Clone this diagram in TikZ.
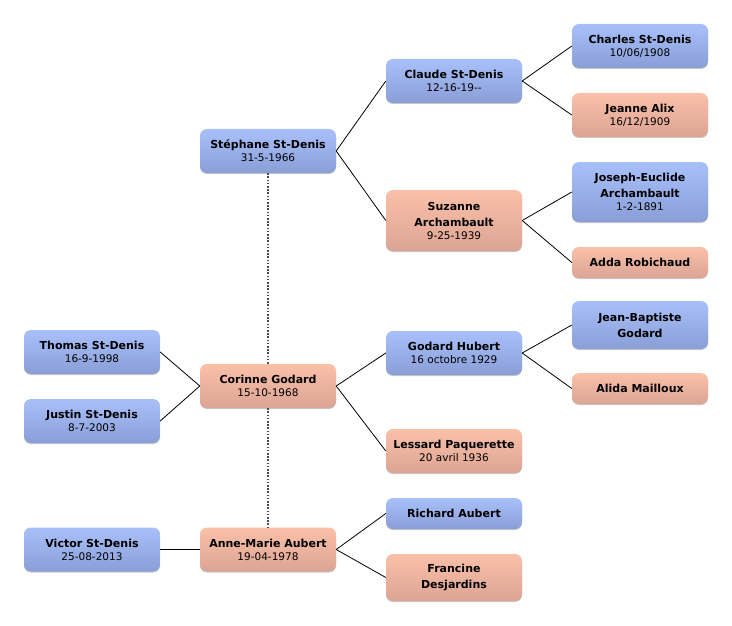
\documentclass[tikz,border=0pt]{standalone}
\usepackage{fontspec}
\setmainfont{DejaVu Sans}
\usetikzlibrary{shadows}
\definecolor{bleuH}{RGB}{168,192,250}
\definecolor{bleuB}{RGB}{138,158,214}
\definecolor{roseH}{RGB}{250,192,168}
\definecolor{roseB}{RGB}{220,164,148}
\newcommand\dt{\fontsize{10.5}{16}\selectfont\mdseries}

\begin{document}
\begin{tikzpicture}[x=1pt,y=-1pt,
  person/.style={rounded corners=7pt, minimum width=136pt, minimum height=44pt,
    inner sep=2pt, align=center, font=\fontsize{11}{16}\selectfont\bfseries,
    drop shadow={shadow xshift=0pt, shadow yshift=-1pt, opacity=.22, fill=black}},
  male/.style={person, top color=bleuH, bottom color=bleuB},
  female/.style={person, top color=roseH, bottom color=roseB},
  lien/.style={draw=black, line width=.8pt},
  pointille/.style={draw=black!70, line width=1.6pt, dash pattern=on 1.6pt off 1.6pt}]
\useasboundingbox (0,0) rectangle (732,626);

% generation 1
\node[male] (stephane) at (268,151) {Stéphane St-Denis\\[-3pt]\dt 31-5-1966};
\node[female] (corinne) at (268,386) {Corinne Godard\\[-3pt]\dt 15-10-1968};
\node[female] (annemarie) at (268,549.5) {Anne-Marie Aubert\\[-3pt]\dt 19-04-1978};

% enfants
\node[male] (thomas) at (92,352) {Thomas St-Denis\\[-3pt]\dt 16-9-1998};
\node[male] (justin) at (92,421) {Justin St-Denis\\[-3pt]\dt 8-7-2003};
\node[male] (victor) at (92,549.5) {Victor St-Denis\\[-3pt]\dt 25-08-2013};

% parents
\node[male] (claude) at (454,81) {Claude St-Denis\\[-3pt]\dt 12-16-19-{}-};
\node[female, minimum height=61pt] (suzanne) at (454,220.5) {Suzanne\\Archambault\\[-3pt]\dt 9-25-1939};
\node[male] (hubert) at (454,353) {Godard Hubert\\[-3pt]\dt 16 octobre 1929};
\node[female] (lessard) at (454,451) {Lessard Paquerette\\[-3pt]\dt 20 avril 1936};
\node[male, minimum height=31pt] (richard) at (454,513.5) {Richard Aubert};
\node[female, minimum height=47pt] (francine) at (454,577.5) {Francine\\Desjardins};

% grands-parents
\node[male] (charles) at (640,46) {Charles St-Denis\\[-3pt]\dt 10/06/1908};
\node[female] (jeanne) at (640,115) {Jeanne Alix\\[-3pt]\dt 16/12/1909};
\node[male, minimum height=60pt] (joseph) at (640,192) {Joseph-Euclide\\Archambault\\[-3pt]\dt 1-2-1891};
\node[female, minimum height=31pt] (adda) at (640,262.5) {Adda Robichaud};
\node[male, minimum height=48pt] (jeanbaptiste) at (640,325) {Jean-Baptiste\\Godard};
\node[female, minimum height=31pt] (alida) at (640,388.5) {Alida Mailloux};

% liens
\draw[lien] (stephane.east) -- (claude.west);
\draw[lien] (stephane.east) -- (suzanne.west);
\draw[lien] (claude.east) -- (charles.west);
\draw[lien] (claude.east) -- (jeanne.west);
\draw[lien] (suzanne.east) -- (joseph.west);
\draw[lien] (suzanne.east) -- (adda.west);
\draw[lien] (thomas.east) -- (corinne.west);
\draw[lien] (justin.east) -- (corinne.west);
\draw[lien] (corinne.east) -- (hubert.west);
\draw[lien] (corinne.east) -- (lessard.west);
\draw[lien] (hubert.east) -- (jeanbaptiste.west);
\draw[lien] (hubert.east) -- (alida.west);
\draw[lien] (victor.east) -- (annemarie.west);
\draw[lien] (annemarie.east) -- (richard.west);
\draw[lien] (annemarie.east) -- (francine.west);

\draw[pointille] (stephane.south) -- (corinne.north);
\draw[pointille] (corinne.south) -- (annemarie.north);

\end{tikzpicture}
\end{document}
